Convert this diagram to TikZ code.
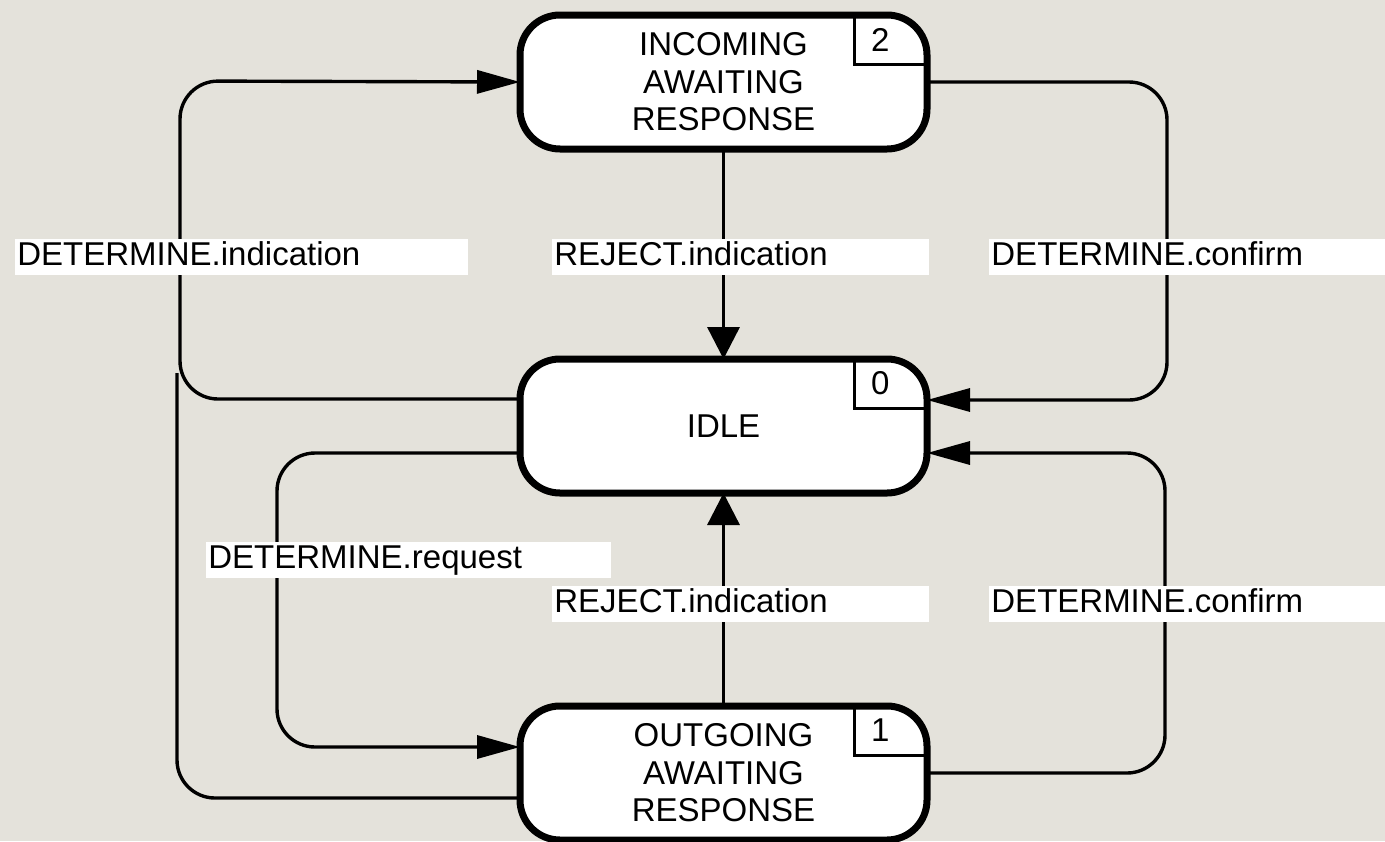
\documentclass[tikz,border=0pt]{standalone}
\usepackage{fontspec}
\setmainfont{Liberation Sans}
\usetikzlibrary{arrows.meta}
\definecolor{paper}{RGB}{228,226,219}

\begin{document}
\begin{tikzpicture}[x=0.5pt,y=-0.5pt,
    font=\fontsize{16.5}{18.75}\selectfont,
    state/.style={draw,fill=white,line width=3.5pt,rounded corners=20pt,minimum width=203.5pt,minimum height=67pt,inner sep=0pt,outer sep=0pt,align=center},
    numbox/.style={anchor=north east,minimum width=36.5pt,minimum height=24.5pt,inner sep=0pt,inner xsep=8.5pt,outer sep=0pt,text width=19.5pt,align=left},
    numline/.style={line width=1.5pt},
    conn/.style={line width=1.7pt,rounded corners=19pt},
    harrow/.style={-{Triangle[length=21.5pt,width=11.5pt]}},
    varrow/.style={-{Triangle[length=16pt,width=16pt]}},
    lbl/.style={fill=white,anchor=west,inner sep=0pt,inner xsep=1pt,text height=11.5pt,text depth=3pt,minimum height=18pt,align=left}]
            \fill[paper] (0,0) rectangle (1385,841);
            \useasboundingbox (0,0) rectangle (1385,841);
            \node[state] (incoming) at (723.5,82) {INCOMING\\AWAITING\\RESPONSE};
            \node[state] (idle) at (723.5,426) {IDLE};
            \node[state] (outgoing) at (723.5,773) {OUTGOING\\AWAITING\\RESPONSE};
            \node[numbox] (no2) at (incoming.north east) {2};
            \node[numbox] (no0) at (idle.north east) {0};
            \node[numbox] (no1) at (outgoing.north east) {1};
            \draw[numline] (no2.north west) |- (no2.south east);
            \draw[numline] (no0.north west) |- (no0.south east);
            \draw[numline] (no1.north west) |- (no1.south east);
            \coordinate (joinA) at (177,373);
            \draw[conn,harrow] (idle.west |- 0,399) -- (180,399) -- (180,81) -- (incoming.west);
            \draw[conn] (outgoing.west |- 0,798) -- (177,798) -- (joinA);
            \draw[conn,harrow] (incoming.east) -- (1167,82) -- (1167,400) -- (idle.east |- 0,400);
            \draw[conn,varrow] (incoming.south) -- (idle.north);
            \draw[conn,harrow] (idle.west |- 0,453) -- (277,453) -- (277,747) -- (outgoing.west |- 0,747);
            \draw[conn,varrow] (outgoing.north) -- (idle.south);
            \draw[conn,harrow] (outgoing.east) -- (1165,773) -- (1165,453) -- (idle.east |- 0,453);
            \node[lbl,text width=224.5pt] (lbIndic) at (15,257) {DETERMINE.indication};
            \node[lbl,text width=186.5pt] (lbRejTop) at (552,257) {REJECT.indication};
            \node[lbl,text width=196pt] (lbConfTop) at (989,257) {DETERMINE.confirm};
            \node[lbl,text width=200.5pt] (lbRequest) at (206,559.5) {DETERMINE.request};
            \node[lbl,text width=186.5pt] (lbRejBot) at (552,604) {REJECT.indication};
            \node[lbl,text width=196pt] (lbConfBot) at (989,604) {DETERMINE.confirm};
        \end{tikzpicture}
\end{document}
